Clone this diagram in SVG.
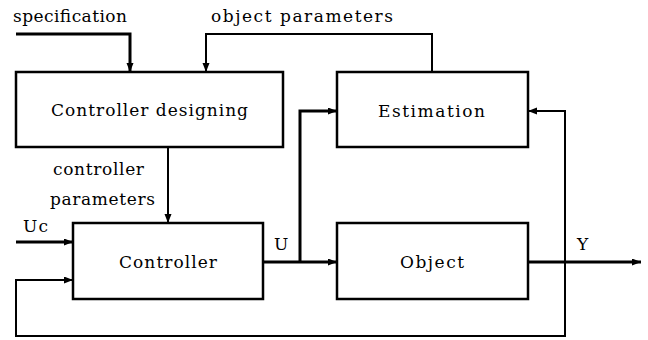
<svg xmlns="http://www.w3.org/2000/svg" width="648" height="340" viewBox="0 0 648 340">
<style>
.box{fill:#fff;stroke:#000;stroke-width:2.5}
.thick{fill:none;stroke:#000;stroke-width:3}
.thin{fill:none;stroke:#000;stroke-width:2}
.t{font-family:'DejaVu Serif','Liberation Serif',serif;font-size:17px;fill:#000}
</style>
<defs>
<marker id="arr" markerUnits="userSpaceOnUse" markerWidth="10" markerHeight="8" refX="9" refY="3.5" orient="auto">
<path d="M0,0 L9,3.5 L0,7 z" fill="#000"/>
</marker>
</defs>
<rect width="648" height="340" fill="#fff"/>
<g id="connectors">
<path class="thick" d="M16,34 H130 V72" marker-end="url(#arr)"/>
<path class="thin" d="M432,72 V34 H206 V72" marker-end="url(#arr)"/>
<path class="thin" d="M168,147 V223" marker-end="url(#arr)"/>
<path class="thick" d="M16,242 H73" marker-end="url(#arr)"/>
<path class="thick" d="M263,262 H337" marker-end="url(#arr)"/>
<path class="thick" d="M300,262 V111 H337" marker-end="url(#arr)"/>
<path class="thick" d="M528,262 H641" marker-end="url(#arr)"/>
<path class="thin" d="M565,262 V111 H528" marker-end="url(#arr)"/>
<path class="thin" d="M565,262 V336 H16 V280 H73" marker-end="url(#arr)"/>
</g>
<g id="controller-designing">
<rect class="box" x="16" y="72" width="267" height="75"/>
<text class="t" x="51" y="116" textLength="197" lengthAdjust="spacing">Controller designing</text>
</g>
<g id="estimation">
<rect class="box" x="337" y="72" width="191" height="75"/>
<text class="t" x="378" y="117" textLength="107" lengthAdjust="spacing">Estimation</text>
</g>
<g id="controller">
<rect class="box" x="73" y="223" width="190" height="76"/>
<text class="t" x="119" y="268" textLength="98" lengthAdjust="spacing">Controller</text>
</g>
<g id="object">
<rect class="box" x="337" y="223" width="191" height="76"/>
<text class="t" x="400" y="268" textLength="64" lengthAdjust="spacing">Object</text>
</g>
<g id="labels">
<text class="t" x="13" y="22" textLength="114" lengthAdjust="spacing">specification</text>
<text class="t" x="211" y="22" textLength="182" lengthAdjust="spacing">object parameters</text>
<text class="t" x="53" y="175" textLength="91" lengthAdjust="spacing">controller</text>
<text class="t" x="50" y="205" textLength="105" lengthAdjust="spacing">parameters</text>
<text class="t" x="23" y="232" textLength="25" lengthAdjust="spacing">Uc</text>
<text class="t" x="274" y="250">U</text>
<text class="t" x="577" y="250">Y</text>
</g>
</svg>
